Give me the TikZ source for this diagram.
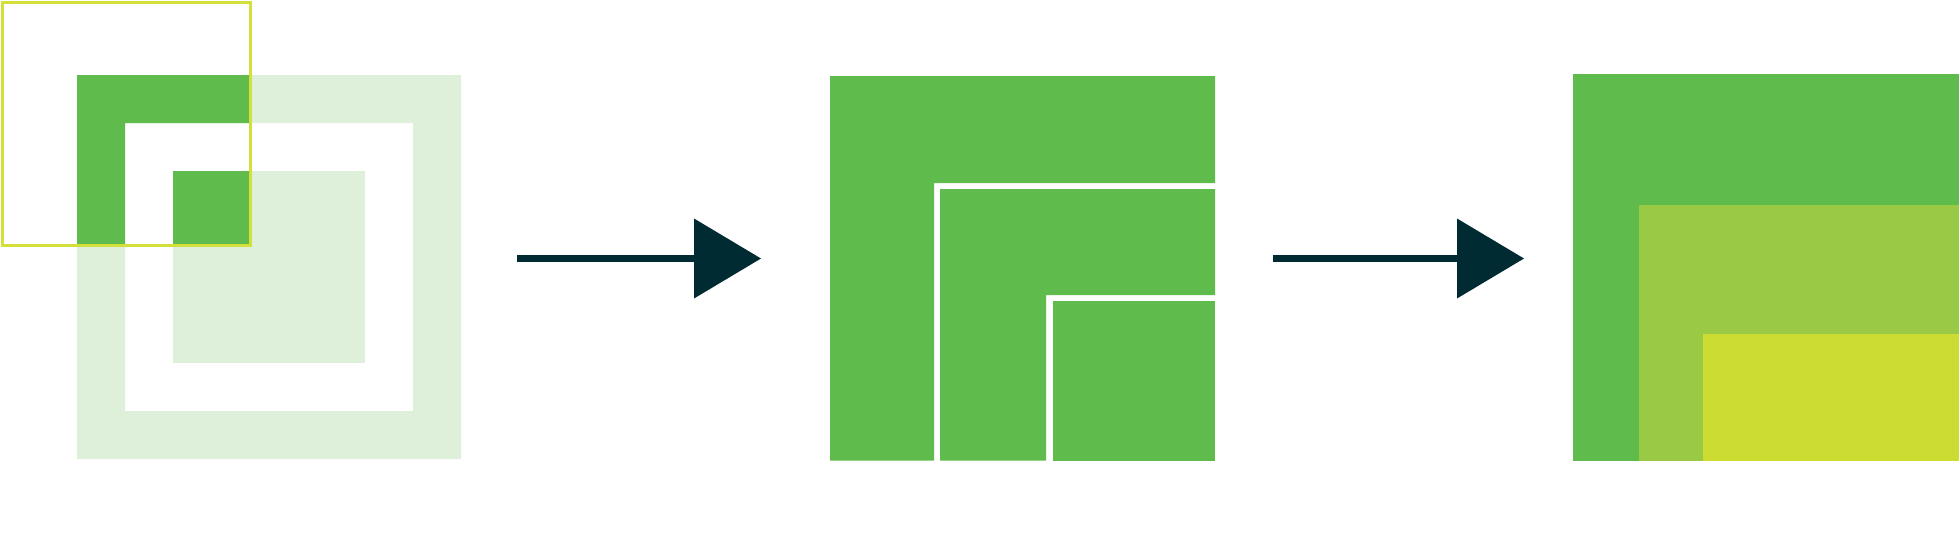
\documentclass[tikz,border=0pt]{standalone}
\usetikzlibrary{arrows.meta}
\definecolor{dkgreen}{HTML}{5FBB4C}
\definecolor{ltgreen}{HTML}{DFF0DA}
\definecolor{olive}{HTML}{9AC945}
\definecolor{lime}{HTML}{CCDC33}
\definecolor{frameyel}{HTML}{D3DF3B}
\definecolor{arrowdk}{HTML}{012B32}
\tikzset{
  flowarrow/.style={draw=arrowdk, line width=7.5pt,
    -{Triangle[length=67pt,width=80pt,line width=0pt]}},
  frameline/.style={draw=frameyel, line width=3pt}
}
\begin{document}
\begin{tikzpicture}[x=1pt,y=-1pt]
\useasboundingbox (0,0) rectangle (1960,538);
% left figure: light concentric squares
\fill[ltgreen, even odd rule] (77,75) rectangle (461,459) (125,123) rectangle (413,411);
\fill[ltgreen] (173,171) rectangle (365,363);
% part inside the frame in dark green
\begin{scope}
  \clip (2.5,2.5) rectangle (250.8,245);
  \fill[dkgreen, even odd rule] (77,75) rectangle (461,459) (125,123) rectangle (413,411);
  \fill[dkgreen] (173,171) rectangle (365,363);
\end{scope}
\draw[frameline] (2.5,2.5) rectangle (250.8,245);
% middle figure
\fill[dkgreen] (830,76) -- (1215,76) -- (1215,183) -- (934,183) -- (934,460.5) -- (830,460.5) -- cycle;
\fill[dkgreen] (940,189) -- (1215,189) -- (1215,295) -- (1046,295) -- (1046,460.5) -- (940,460.5) -- cycle;
\fill[dkgreen] (1052.5,301) rectangle (1215,460.5);
% right figure
\fill[dkgreen] (1572.5,74) rectangle (1959,460.5);
\fill[olive] (1639,205) rectangle (1959,460.5);
\fill[lime] (1702.5,333.6) rectangle (1959,460.5);
% arrows
\coordinate (a1s) at (517,258.5);
\coordinate (a1e) at (761,258.5);
\coordinate (a2s) at (1272.5,258.5);
\coordinate (a2e) at (1524,258.5);
\draw[flowarrow] (a1s) -- (a1e);
\draw[flowarrow] (a2s) -- (a2e);
\end{tikzpicture}
\end{document}
